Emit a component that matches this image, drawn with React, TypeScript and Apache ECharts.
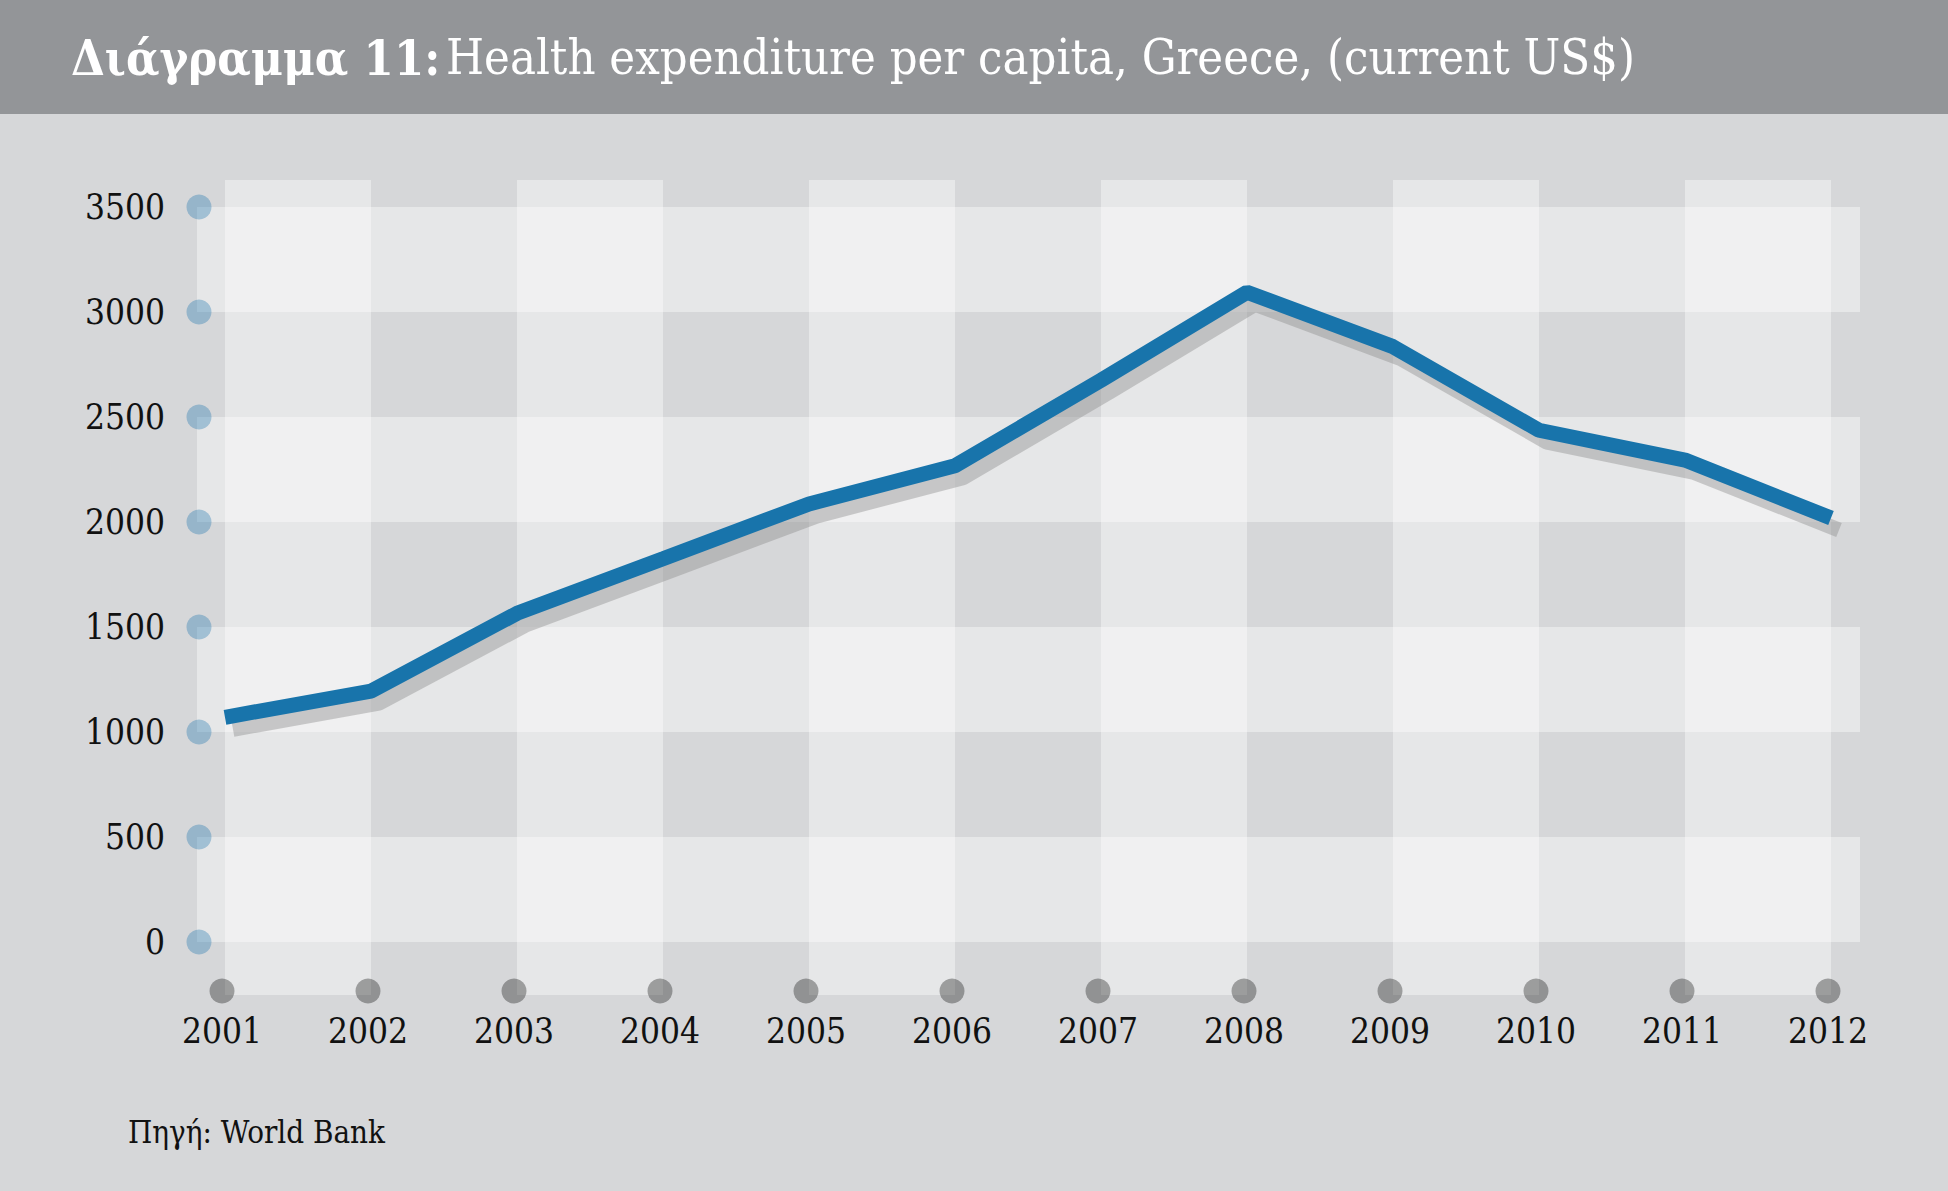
import React, { useEffect, useRef } from "react";
import * as echarts from "echarts";

// ---- data ----
const years = ["2001", "2002", "2003", "2004", "2005", "2006", "2007", "2008", "2009", "2010", "2011", "2012"];
const spending = [1070, 1195, 1565, 1825, 2086, 2268, 2675, 3094, 2835, 2437, 2295, 2019];
const yTicks = [0, 500, 1000, 1500, 2000, 2500, 3000, 3500];
const titleBold = "Διάγραμμα 11:";
const titleRest = "Health expenditure per capita, Greece, (current US$)";
const sourceText = "Πηγή: World Bank";

const FONT = '"DejaVu Serif Condensed", "DejaVu Serif", serif';
const BAND = "rgba(255,255,255,0.4)";
const NONE = "rgba(255,255,255,0)";

export default function App() {
  const ref = useRef<HTMLDivElement>(null);

  useEffect(() => {
    document.body.style.margin = "0";
    if (!ref.current) return;
    const chart = echarts.init(ref.current, undefined, { renderer: "svg" });

    const option: any = {
      animation: false,
      backgroundColor: "#d6d7d9",
      textStyle: { fontFamily: FONT },
      title: {
        text: `{b|${titleBold}} {r|${titleRest}}`,
        left: 71,
        top: 29,
        padding: 0,
        textStyle: {
          rich: {
            b: { fontFamily: FONT, fontWeight: "bold", fontSize: 48.5, color: "#ffffff", lineHeight: 56 },
            r: { fontFamily: FONT, fontWeight: "normal", fontSize: 48.5, color: "#ffffff", lineHeight: 56 },
          },
        },
      },
      graphic: [
        {
          type: "rect",
          left: 0,
          top: 0,
          z: -10,
          shape: { x: 0, y: 0, width: 1948, height: 114 },
          style: { fill: "#939598" },
        },
        {
          type: "text",
          left: 128,
          top: 1116,
          style: { text: sourceText, fontSize: 31, fontFamily: FONT, fill: "#111111" },
        },
      ],
      grid: [
        { left: 197, top: 207, width: 1663, height: 735 }, // horizontal bands + y labels
        { left: 225, top: 180, width: 1606, height: 815 }, // vertical bands
        { left: 233, top: 219, width: 1606, height: 735 }, // shadow line
        { left: 225, top: 207, width: 1606, height: 735 }, // main line
        { left: 222, top: 989, width: 1606, height: 2 }, // x axis row
      ],
      xAxis: [
        { gridIndex: 0, type: "value", min: -0.0012, max: 1, show: false },
        {
          gridIndex: 1,
          type: "category",
          data: years,
          boundaryGap: false,
          axisLine: { show: false },
          axisTick: { show: false },
          axisLabel: { show: false },
          splitLine: { show: false },
          splitArea: { show: true, interval: 0, areaStyle: { color: [BAND, NONE] } },
        },
        { gridIndex: 2, type: "category", data: years, boundaryGap: false, show: false },
        { gridIndex: 3, type: "category", data: years, boundaryGap: false, show: false },
        {
          gridIndex: 4,
          type: "category",
          data: years,
          boundaryGap: false,
          axisLine: { show: false },
          axisTick: { show: false },
          splitLine: { show: false },
          axisLabel: { interval: 0, margin: 22, fontSize: 35, color: "#111111", fontFamily: FONT },
        },
      ],
      yAxis: [
        {
          gridIndex: 0,
          type: "value",
          min: 0,
          max: 3500,
          interval: 500,
          axisLine: { show: false },
          axisTick: { show: false },
          splitLine: { show: false },
          splitArea: { show: true, areaStyle: { color: [BAND, NONE] } },
          axisLabel: {
            margin: 32,
            fontSize: 35,
            color: "#111111",
            fontFamily: FONT,
            formatter: (v: number) => String(v),
          },
        },
        { gridIndex: 1, type: "value", min: 0, max: 1, show: false },
        { gridIndex: 2, type: "value", min: 0, max: 3500, show: false },
        { gridIndex: 3, type: "value", min: 0, max: 3500, show: false },
        { gridIndex: 4, type: "value", min: 0, max: 1, show: false },
      ],
      series: [
        {
          type: "scatter",
          xAxisIndex: 0,
          yAxisIndex: 0,
          data: yTicks.map((v) => [0, v]),
          symbolSize: 25,
          itemStyle: { color: "rgba(14,110,170,0.4)" },
          clip: false,
          silent: true,
        },
        {
          type: "line",
          xAxisIndex: 2,
          yAxisIndex: 2,
          data: spending,
          symbol: "none",
          lineStyle: { width: 15, color: "rgba(140,140,140,0.42)" },
          clip: true,
          silent: true,
        },
        {
          type: "line",
          xAxisIndex: 3,
          yAxisIndex: 3,
          data: spending,
          symbol: "none",
          lineStyle: { width: 15, color: "#1874ab" },
          clip: true,
          silent: true,
        },
        {
          type: "scatter",
          xAxisIndex: 4,
          yAxisIndex: 4,
          data: years.map((y) => [y, 0]),
          symbolSize: 25,
          itemStyle: { color: "rgba(0,0,0,0.4)" },
          clip: false,
          silent: true,
        },
      ],
    };

    chart.setOption(option);
    return () => chart.dispose();
  }, []);

  return <div ref={ref} style={{ width: 1948, height: 1191 }} />;
}
